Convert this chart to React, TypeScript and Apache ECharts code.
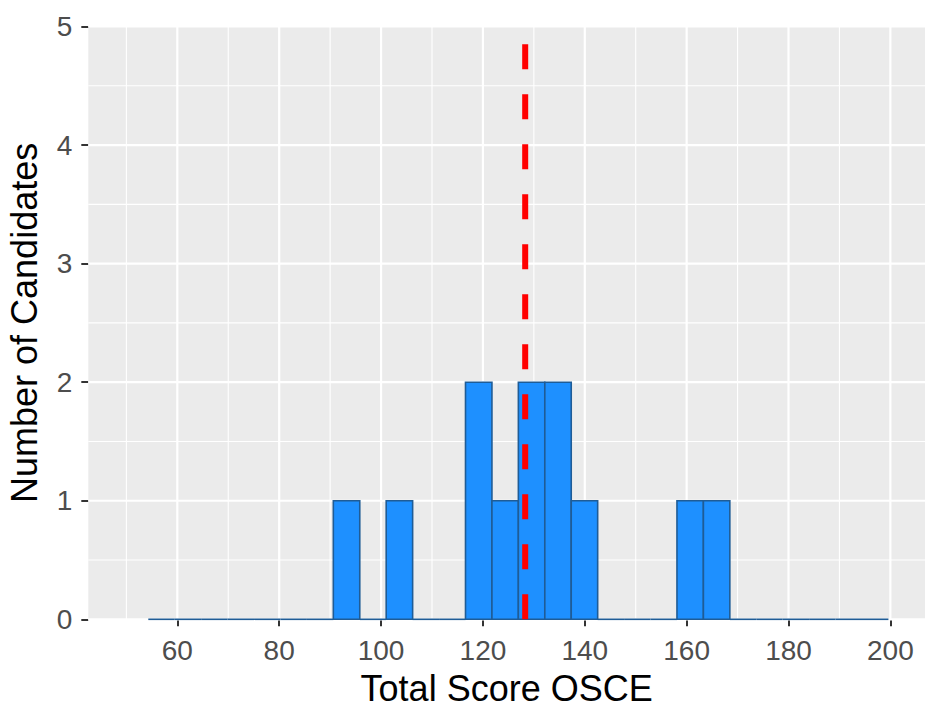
import React, { useEffect, useRef } from "react";
import * as echarts from "echarts";

// ---- data ----
const xTicks = [60, 80, 100, 120, 140, 160, 180, 200];
const xMinorGrid = [50, 70, 90, 110, 130, 150, 170, 190];
const yTicks = [0, 1, 2, 3, 4, 5];
const yMinorGrid = [0.5, 1.5, 2.5, 3.5, 4.5];
const binStart = 54.3;
const binWidth = 5.19;
const binCounts = [0, 0, 0, 0, 0, 0, 0, 1, 0, 1, 0, 0, 2, 1, 2, 2, 1, 0, 0, 0, 1, 1, 0, 0, 0, 0, 0, 0];
const meanScore = 128.3;
const xLabel = "Total Score OSCE";
const yLabel = "Number of Candidates";

const FONT = "'Liberation Sans', Arial, sans-serif";
const X_MIN = 42.52;
const X_MAX = 206.8;
const Y_MIN = 0;
const Y_MAX = 5;

export default function App() {
  const ref = useRef<HTMLDivElement>(null);

  useEffect(() => {
    if (!ref.current) return;
    const chart = echarts.init(ref.current, undefined, { renderer: "svg" });

    const gridData: number[][] = [
      ...xTicks.map((v) => [v, 0, 1]),
      ...xMinorGrid.map((v) => [v, 0, 0]),
      ...yTicks.map((v) => [v, 1, 1]),
      ...yMinorGrid.map((v) => [v, 1, 0]),
    ];

    const histData = binCounts.map((c, i) => [
      binStart + i * binWidth,
      binStart + (i + 1) * binWidth,
      c,
    ]);

    const option: any = {
      animation: false,
      textStyle: { fontFamily: FONT },
      grid: {
        left: 88.3,
        right: 0,
        top: 26.5,
        bottom: 88.7,
        show: true,
        backgroundColor: "#EBEBEB",
        borderWidth: 0,
        containLabel: false,
        outerBoundsMode: "none",
      },
      xAxis: {
        type: "value",
        min: X_MIN,
        max: X_MAX,
        name: xLabel,
        nameLocation: "middle",
        nameGap: 51,
        nameTextStyle: { color: "#000000", fontSize: 36, fontFamily: FONT },
        axisLine: { show: false },
        axisTick: {
          show: true,
          customValues: xTicks,
          length: 7,
          lineStyle: { color: "#333333", width: 2 },
        },
        axisLabel: {
          customValues: xTicks,
          color: "#4D4D4D",
          fontSize: 28,
          margin: 17.5,
          fontFamily: FONT,
        },
        splitLine: { show: false },
      },
      yAxis: {
        type: "value",
        min: Y_MIN,
        max: Y_MAX,
        interval: 1,
        name: yLabel,
        nameLocation: "middle",
        nameGap: 45.5,
        nameTextStyle: { color: "#000000", fontSize: 36, fontFamily: FONT },
        axisLine: { show: false },
        axisTick: {
          show: true,
          length: 7,
          lineStyle: { color: "#333333", width: 2 },
        },
        axisLabel: {
          color: "#4D4D4D",
          fontSize: 28,
          margin: 16,
          fontFamily: FONT,
        },
        splitLine: { show: false },
      },
      series: [
        {
          type: "custom",
          name: "grid",
          silent: true,
          z: 1,
          data: gridData,
          encode: { x: 0 },
          renderItem: (params: any, api: any) => {
            const v = api.value(0);
            const dir = api.value(1);
            const major = api.value(2);
            const cs = params.coordSys;
            const w = major ? 2.2 : 1.1;
            if (dir === 0) {
              const p = api.coord([v, Y_MIN]);
              return {
                type: "line",
                shape: { x1: p[0], y1: cs.y, x2: p[0], y2: cs.y + cs.height },
                style: { stroke: "#FFFFFF", lineWidth: w },
              };
            }
            const p = api.coord([X_MIN, v]);
            return {
              type: "line",
              shape: { x1: cs.x, y1: p[1], x2: cs.x + cs.width, y2: p[1] },
              style: { stroke: "#FFFFFF", lineWidth: w },
            };
          },
        },
        {
          type: "custom",
          name: "histogram",
          z: 2,
          data: histData,
          encode: { x: [0, 1], y: 2 },
          renderItem: (params: any, api: any) => {
            const s = api.value(0);
            const e = api.value(1);
            const c = api.value(2);
            const p0 = api.coord([s, 0]);
            const p1 = api.coord([e, c]);
            if (c > 0) {
              return {
                type: "rect",
                shape: {
                  x: p0[0],
                  y: p1[1],
                  width: p1[0] - p0[0],
                  height: p0[1] - p1[1],
                },
                style: { fill: "#1E90FF", stroke: "#1F5C96", lineWidth: 1.6 },
              };
            }
            return {
              type: "line",
              shape: { x1: p0[0], y1: p0[1], x2: p1[0], y2: p0[1] },
              style: { stroke: "#1F5C96", lineWidth: 1.6 },
            };
          },
        },
        {
          type: "custom",
          name: "mean",
          z: 3,
          data: [[meanScore]],
          encode: { x: 0 },
          renderItem: (params: any, api: any) => {
            const m = api.value(0);
            const a = api.coord([m, Y_MIN]);
            const b = api.coord([m, Y_MAX]);
            return {
              type: "line",
              shape: { x1: a[0], y1: a[1], x2: b[0], y2: b[1] },
              style: {
                stroke: "#FF0000",
                lineWidth: 6,
                lineDash: [25, 25],
                lineCap: "butt",
              },
            };
          },
        },
      ],
    };

    chart.setOption(option);
    return () => {
      chart.dispose();
    };
  }, []);

  return (
    <div
      ref={ref}
      style={{ position: "absolute", left: 0, top: 0, width: 925, height: 708 }}
    />
  );
}
